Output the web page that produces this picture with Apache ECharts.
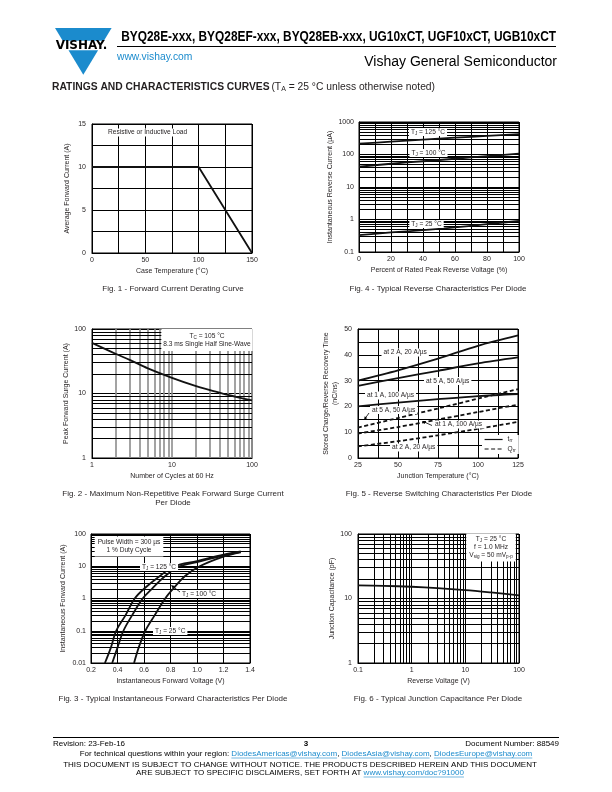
<!DOCTYPE html>
<html>
<head>
<meta charset="utf-8">
<title>BYQ28E / UG10xCT - Ratings and Characteristics Curves</title>
<script src="https://cdn.jsdelivr.net/npm/echarts@6.0.0/dist/echarts.min.js"></script>
<style>
  html, body { margin: 0; padding: 0; background: #fff; }
  #page { width: 612px; height: 792px; }
</style>
</head>
<body>
<div id="page"></div>
<script>
// Fig. 1 - forward current derating
const caseTemp = [0, 100, 150];
const avgCurrent = [10, 10, 0];
const fig1XLabels = [0, 50, 100, 150];
const fig1YLabels = [0, 5, 10, 15];

// Fig. 4 - reverse characteristics (% of rated voltage -> uA)
const ratedPct = [0, 20, 40, 60, 80, 100];
const irT125 = [215, 248, 286, 330, 372, 425];
const irT100 = [42, 52, 62, 74, 89, 106];
const irT25 = [0.33, 0.4, 0.47, 0.57, 0.72, 0.9];
const fig4XLabels = [0, 20, 40, 60, 80, 100];

// Fig. 2 - surge current vs cycles
const cycles = [1, 2, 3, 5, 10, 20, 30, 50, 100];
const surgeA = [61, 41, 33, 24.5, 17.5, 13, 11.3, 9.5, 7.8];

// Fig. 5 - reverse switching (trr solid, Qrr dashed)
const junctionTemp = [25, 50, 75, 100, 125];
const trr2A = [30, 34, 38.5, 43.5, 47.5];
const trr5A = [28, 31, 33.8, 36.7, 39];
const trr1A = [20, 21.5, 22.8, 24, 24.8];
const qrr5A = [11.8, 15.5, 19.2, 23, 26.7];
const qrr1A = [9.5, 12, 14.9, 17.8, 20.7];
const qrr2A = [4.5, 6.5, 8.8, 11.3, 14];
const fig5XLabels = [25, 50, 75, 100, 125];
const fig5YLabels = [0, 10, 20, 30, 40, 50];

// Fig. 3 - forward characteristics
const vfT125 = [0.305, 0.35, 0.39, 0.46, 0.53, 0.6, 0.72, 0.83, 1.0, 1.2, 1.33];
const ifT125 = [0.01, 0.03, 0.1, 0.3, 1, 2, 5, 10, 14.5, 23, 29];
const vfT100 = [0.36, 0.4, 0.445, 0.51, 0.59, 0.66, 0.76, 0.87, 1.0, 1.2, 1.33];
const ifT100 = [0.01, 0.03, 0.1, 0.3, 1, 2, 5, 10, 13.5, 21.5, 28];
const vfT25 = [0.525, 0.56, 0.61, 0.68, 0.76, 0.82, 0.91, 1.02, 1.2, 1.33];
const ifT25 = [0.01, 0.03, 0.1, 0.3, 1, 2, 5, 10, 20, 27];

// Fig. 6 - junction capacitance
const reverseV = [0.1, 0.3, 1, 3, 10, 30, 100];
const capPf = [16, 15.7, 15.2, 14.5, 13.5, 12.4, 11.2];

const FONT = 'Liberation Sans, Arial, sans-serif';
const INK = '#231f20';
const BLUE = '#1b8bcd';

// plot rectangles on the page
const plots = [
  { left: 92, top: 124, width: 160, height: 129 },  // Fig. 1
  { left: 359, top: 122, width: 160, height: 130 }, // Fig. 4
  { left: 92, top: 329, width: 160, height: 129 },  // Fig. 2
  { left: 358, top: 329, width: 160, height: 129 }, // Fig. 5
  { left: 91, top: 534, width: 159, height: 129 },  // Fig. 3
  { left: 358, top: 534, width: 161, height: 129 }  // Fig. 6
];

const rich = {
  m: { fontSize: 6.6, fontFamily: FONT, color: INK, lineHeight: 8 },
  s: { fontSize: 4.6, fontFamily: FONT, color: INK, lineHeight: 4, verticalAlign: 'bottom' }
};

function onlyThese(list, fmt) {
  return v => list.some(t => Math.abs(t - v) < 1e-6) ? (fmt ? fmt(v) : String(v)) : '';
}
function logFmt(v) { return String(+v.toPrecision(4)); }

function axis(idx, o) {
  const a = {
    gridIndex: idx,
    type: o.type || 'value',
    min: o.min, max: o.max,
    name: o.name, nameLocation: 'middle', nameGap: o.gap,
    nameTextStyle: { color: INK, fontSize: 7, fontFamily: FONT, lineHeight: 9 },
    axisLine: { show: true, onZero: false, lineStyle: { color: '#000', width: 1 } },
    axisTick: { show: false },
    axisLabel: { color: INK, fontSize: 7, fontFamily: FONT, margin: o.margin || 4,
      formatter: o.formatter, showMinLabel: true, showMaxLabel: true, hideOverlap: false },
    splitLine: { show: true, lineStyle: { color: o.splitColor || '#000', width: o.splitWidth || 1 } }
  };
  if (o.interval) a.interval = o.interval;
  if (o.type === 'log') a.logBase = 10;
  return a;
}

function logMinors(lo, hi) {
  const out = [];
  for (let d = lo; d < hi * 0.999; d = +(d * 10).toPrecision(3))
    for (let k = 2; k <= 9; k++) out.push(+(d * k).toPrecision(3));
  return out;
}

// extra grid lines between decades, drawn through the axes with markLine
function minorGrid(idx, corner, xs, ys, xStyle) {
  const data = [];
  xs.forEach(v => data.push({ xAxis: v, lineStyle: xStyle || { color: '#000', width: 1 } }));
  ys.forEach(v => data.push({ yAxis: v }));
  return {
    type: 'line', xAxisIndex: idx, yAxisIndex: idx, data: [corner],
    symbol: 'none', silent: true, z: 1, lineStyle: { width: 0 },
    markLine: { z: 1, silent: true, symbol: ['none', 'none'], label: { show: false },
      lineStyle: { color: '#000', width: 1, type: 'solid' }, emphasis: { disabled: true }, data }
  };
}

function curve(idx, xs, ys, opt) {
  opt = opt || {};
  return {
    type: 'line', name: opt.name, xAxisIndex: idx, yAxisIndex: idx,
    data: xs.map((x, i) => [x, ys[i]]), symbol: 'none', smooth: opt.smooth || false, z: 3,
    itemStyle: { color: '#111' },
    lineStyle: { color: '#111', width: 1.8, type: opt.dash || 'solid' }
  };
}

function txt(x, y, text, o) {
  o = o || {};
  const el = {
    type: 'text', x, y, z: o.z || 50, silent: true,
    style: {
      text, rich: o.rich || rich, fill: o.fill || INK,
      fontSize: o.size || 6.6, fontFamily: o.family || FONT, fontWeight: o.weight || 'normal',
      align: o.align || 'left', verticalAlign: 'middle', lineHeight: o.lineHeight,
      backgroundColor: o.bg, padding: o.pad
    }
  };
  if (o.scaleX) el.scaleX = o.scaleX;
  return el;
}
function label(x, y, text, align) {
  return txt(x, y, text, { bg: '#fff', pad: [0, 2], align: align || 'left' });
}
function arrow(x1, y1, x2, y2) {
  const a = Math.atan2(y2 - y1, x2 - x1), L = 3.5, W = 1.6;
  const bx = x2 - L * Math.cos(a), by = y2 - L * Math.sin(a);
  return [
    { type: 'line', z: 60, shape: { x1, y1, x2: bx, y2: by }, style: { stroke: '#000', lineWidth: 0.8 } },
    { type: 'polygon', z: 60, shape: { points: [[x2, y2], [bx - W * Math.sin(a), by + W * Math.cos(a)], [bx + W * Math.sin(a), by - W * Math.cos(a)]] }, style: { fill: '#000' } }
  ];
}

// footer line with underlined blue links, centred on cx
const meas = document.createElement('canvas').getContext('2d');
function linkLine(cx, y, parts, size) {
  meas.font = size + 'px ' + FONT;
  const widths = parts.map(p => meas.measureText(p[0]).width);
  const total = widths.reduce((a, b) => a + b, 0);
  const out = [];
  let x = cx - total / 2;
  parts.forEach((p, i) => {
    out.push(txt(x, y, p[0], { size, fill: p[1] ? BLUE : '#000' }));
    if (p[1]) out.push({ type: 'line', z: 10, shape: { x1: x, y1: y + 4, x2: x + widths[i], y2: y + 4 }, style: { stroke: BLUE, lineWidth: 0.6 } });
    x += widths[i];
  });
  return out;
}

const grid = plots.map(p => Object.assign({ show: true, borderColor: '#000', borderWidth: 1, backgroundColor: '#fff' }, p));

const xAxis = [
  axis(0, { min: 0, max: 150, interval: 25, name: 'Case Temperature (°C)', gap: 14, formatter: onlyThese(fig1XLabels) }),
  axis(1, { min: 0, max: 100, interval: 10, name: 'Percent of Rated Peak Reverse Voltage (%)', gap: 14, formatter: onlyThese(fig4XLabels) }),
  axis(2, { type: 'log', min: 1, max: 100, name: 'Number of Cycles at 60 Hz', gap: 14, formatter: logFmt, splitColor: '#8c8c8c', splitWidth: 1.6 }),
  axis(3, { min: 25, max: 125, interval: 12.5, name: 'Junction Temperature (°C)', gap: 14, formatter: onlyThese(fig5XLabels) }),
  axis(4, { min: 0.2, max: 1.4, interval: 0.2, name: 'Instantaneous Forward Voltage (V)', gap: 14, formatter: v => v.toFixed(1) }),
  axis(5, { type: 'log', min: 0.1, max: 100, name: 'Reverse Voltage (V)', gap: 14, formatter: logFmt })
];
const yAxis = [
  axis(0, { min: 0, max: 15, interval: 2.5, name: 'Average Forward Current (A)', gap: 20, margin: 6, formatter: onlyThese(fig1YLabels) }),
  axis(1, { type: 'log', min: 0.1, max: 1000, name: 'Instantaneous Reverse Current (µA)', gap: 23, margin: 5, formatter: logFmt }),
  axis(2, { type: 'log', min: 1, max: 100, name: 'Peak Forward Surge Current (A)', gap: 21, margin: 6, formatter: logFmt }),
  axis(3, { min: 0, max: 50, interval: 5, name: 'Stored Charge/Reverse Recovery Time\n(nC/ns)', gap: 18, margin: 6, formatter: onlyThese(fig5YLabels) }),
  axis(4, { type: 'log', min: 0.01, max: 100, name: 'Instantaneous Forward Current (A)', gap: 23, margin: 5, formatter: logFmt }),
  axis(5, { type: 'log', min: 1, max: 100, name: 'Junction Capacitance (pF)', gap: 21, margin: 6, formatter: logFmt })
];

const series = [
  // grid lines between decades
  minorGrid(1, [0, 0.1], [], logMinors(0.1, 1000)),
  minorGrid(2, [1, 1], logMinors(1, 100), logMinors(1, 100), { color: '#8c8c8c', width: 1.6 }),
  minorGrid(4, [0.2, 0.01], [], logMinors(0.01, 100)),
  minorGrid(5, [0.1, 1], logMinors(0.1, 100), logMinors(1, 100)),

  curve(0, caseTemp, avgCurrent),
  curve(1, ratedPct, irT125, { smooth: 0.3 }),
  curve(1, ratedPct, irT100, { smooth: 0.3 }),
  curve(1, ratedPct, irT25, { smooth: 0.3 }),
  curve(2, cycles, surgeA, { smooth: 0.35 }),
  curve(3, junctionTemp, trr2A, { smooth: 0.3, name: 't_rr' }),
  curve(3, junctionTemp, trr5A, { smooth: 0.3, name: 't_rr' }),
  curve(3, junctionTemp, trr1A, { smooth: 0.3, name: 't_rr' }),
  curve(3, junctionTemp, qrr5A, { smooth: 0.3, name: 'Q_rr', dash: [4, 2.5] }),
  curve(3, junctionTemp, qrr1A, { smooth: 0.3, name: 'Q_rr', dash: [4, 2.5] }),
  curve(3, junctionTemp, qrr2A, { smooth: 0.3, name: 'Q_rr', dash: [4, 2.5] }),
  curve(4, vfT125, ifT125, { smooth: 0.35 }),
  curve(4, vfT100, ifT100, { smooth: 0.35 }),
  curve(4, vfT25, ifT25, { smooth: 0.35 }),
  curve(5, reverseV, capPf, { smooth: 0.3 })
];

// page furniture: logo, header, captions, footer
const cx = 83.3;
const graphic = [
  { type: 'polygon', z: 10, shape: { points: [[55, 28], [111.6, 28], [103.9, 40.7], [62.7, 40.7]] }, style: { fill: BLUE } },
  { type: 'polygon', z: 10, shape: { points: [[68.5, 50.3], [98.1, 50.3], [cx, 74.7]] }, style: { fill: BLUE } },
  txt(81.5, 45.6, 'VISHAY.', { size: 11.5, weight: 'bold', family: 'DejaVu Sans, ' + FONT, align: 'center', fill: '#000', scaleX: 1.04 }),
  txt(556, 36.5, 'BYQ28E-xxx, BYQ28EF-xxx, BYQ28EB-xxx, UG10xCT, UGF10xCT, UGB10xCT',
    { size: 14.5, weight: 'bold', align: 'right', fill: '#000', scaleX: 0.82 }),
  { type: 'line', z: 10, shape: { x1: 117, y1: 46.5, x2: 556, y2: 46.5 }, style: { stroke: '#000', lineWidth: 1 } },
  txt(117, 57, 'www.vishay.com', { size: 10.3, fill: BLUE }),
  txt(557, 62.5, 'Vishay General Semiconductor', { size: 14, align: 'right', fill: '#000' }),
  txt(52, 87, '{b|RATINGS AND CHARACTERISTICS CURVES} {n|(T}{ns|A}{n| = 25 °C unless otherwise noted)}', {
    rich: {
      b: { fontSize: 10.3, fontWeight: 'bold', fontFamily: FONT, color: '#000', lineHeight: 12 },
      n: { fontSize: 10.3, fontFamily: FONT, color: '#000', lineHeight: 12 },
      ns: { fontSize: 7, fontFamily: FONT, color: '#000', lineHeight: 6, verticalAlign: 'bottom' }
    }
  }),

  // captions
  txt(173, 289, 'Fig. 1 - Forward Current Derating Curve', { size: 8, align: 'center' }),
  txt(438, 289, 'Fig. 4 - Typical Reverse Characteristics Per Diode', { size: 8, align: 'center' }),
  txt(173, 494, 'Fig. 2 - Maximum Non-Repetitive Peak Forward Surge Current', { size: 8, align: 'center' }),
  txt(173, 503, 'Per Diode', { size: 8, align: 'center' }),
  txt(439, 494, 'Fig. 5 - Reverse Switching Characteristics Per Diode', { size: 8, align: 'center' }),
  txt(173, 699, 'Fig. 3 - Typical Instantaneous Forward Characteristics Per Diode', { size: 8, align: 'center' }),
  txt(438, 699, 'Fig. 6 - Typical Junction Capacitance Per Diode', { size: 8, align: 'center' }),

  // in-plot notes
  label(106, 132.5, '{m|Resistive or Inductive Load}'),
  label(428, 132, '{m|T}{s|J}{m| = 125 °C}', 'center'),
  label(428.5, 153, '{m|T}{s|J}{m| = 100 °C}', 'center'),
  label(426.5, 224, '{m|T}{s|J}{m| = 25 °C}', 'center'),
  txt(207, 340, '{m|T}{s|C}{m| = 105 °C}\n{m|8.3 ms Single Half Sine-Wave}', { align: 'center', bg: '#fff', pad: [3, 2, 3, 2] }),
  label(381.5, 352.5, '{m|at 2 A, 20 A/µs}'),
  label(424, 381, '{m|at 5 A, 50 A/µs}'),
  label(365, 395.5, '{m|at 1 A, 100 A/µs}'),
  label(370, 410, '{m|at 5 A, 50 A/µs}'),
  label(433, 424.5, '{m|at 1 A, 100 A/µs}'),
  label(390, 447.5, '{m|at 2 A, 20 A/µs}'),
  ...arrow(369, 413, 364, 420),
  ...arrow(432, 425.5, 422, 421),
  txt(129, 546.5, '{m|Pulse Width = 300 µs}\n{m|1 % Duty Cycle}', { align: 'center', bg: '#fff', pad: [2, 3, 2, 3] }),
  label(140, 567, '{m|T}{s|J}{m| = 125 °C}'),
  label(180, 594, '{m|T}{s|J}{m| = 100 °C}'),
  ...arrow(180, 592, 171, 585),
  label(153, 631, '{m|T}{s|J}{m| = 25 °C}'),
  txt(491, 547.5, '{m|T}{s|J}{m| = 25 °C}\n{m|f = 1.0 MHz}\n{m|V}{s|sig}{m| = 50 mV}{s|p-p}', { align: 'center', bg: '#fff', pad: [2, 3, 2, 3] }),

  // footer
  { type: 'line', z: 10, shape: { x1: 53, y1: 737.5, x2: 559, y2: 737.5 }, style: { stroke: '#000', lineWidth: 1 } },
  txt(53, 743.5, 'Revision: 23-Feb-16', { size: 8, fill: '#000' }),
  txt(306, 744, '3', { size: 8, weight: 'bold', align: 'center', fill: '#000' }),
  txt(559, 743.5, 'Document Number: 88549', { size: 8, align: 'right', fill: '#000' }),
  ...linkLine(306, 754, [
    ['For technical questions within your region: ', false],
    ['DiodesAmericas@vishay.com', true], [', ', false],
    ['DiodesAsia@vishay.com', true], [', ', false],
    ['DiodesEurope@vishay.com', true]
  ], 8),
  txt(300, 764.5, 'THIS DOCUMENT IS SUBJECT TO CHANGE WITHOUT NOTICE. THE PRODUCTS DESCRIBED HEREIN AND THIS DOCUMENT', { size: 8, align: 'center', fill: '#000' }),
  ...linkLine(300, 773, [
    ['ARE SUBJECT TO SPECIFIC DISCLAIMERS, SET FORTH AT ', false],
    ['www.vishay.com/doc?91000', true]
  ], 8)
];

const chart = echarts.init(document.getElementById('page'), null, { renderer: 'canvas', width: 612, height: 792 });
chart.setOption({
  backgroundColor: '#fff',
  animation: false,
  textStyle: { fontFamily: FONT },
  grid, xAxis, yAxis, series, graphic,
  legend: {
    data: ['t_rr', 'Q_rr'],
    orient: 'vertical', left: 482, top: 435,
    itemWidth: 18, itemHeight: 6, itemGap: 2,
    padding: [1, 3, 1, 2], backgroundColor: '#fff',
    selectedMode: false,
    itemStyle: { opacity: 0 },
    lineStyle: { opacity: 1, width: 1.2 },
    formatter: n => n === 't_rr' ? '{m|t}{s|rr}' : '{m|Q}{s|rr}',
    textStyle: { fontSize: 6.6, fontFamily: FONT, color: INK, rich }
  }
});
</script>
</body>
</html>
